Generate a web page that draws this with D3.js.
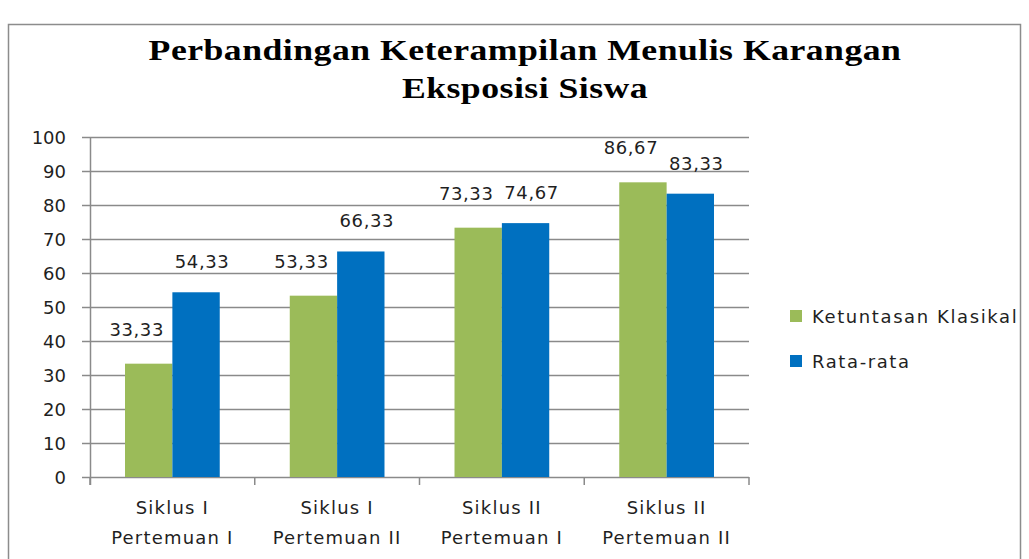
<!DOCTYPE html>
<html>
<head>
<meta charset="utf-8">
<script src="https://cdn.jsdelivr.net/npm/d3@7"></script>
<style>
  body { margin: 0; background: #fff; }
  text { font-family: "DejaVu Sans", Verdana, sans-serif; fill: #1f1f1f; }
</style>
</head>
<body>
<div id="chart"></div>
<script>
var categories = [["Siklus I", "Pertemuan I"], ["Siklus I", "Pertemuan II"], ["Siklus II", "Pertemuan I"], ["Siklus II", "Pertemuan II"]];
var seriesNames = ["Ketuntasan Klasikal", "Rata-rata"];
var ketuntasan = [33.33, 53.33, 73.33, 86.67];
var rataRata = [54.33, 66.33, 74.67, 83.33];
var yTicks = [0, 10, 20, 30, 40, 50, 60, 70, 80, 90, 100];
var titleLines = ["Perbandingan Keterampilan Menulis Karangan", "Eksposisi Siswa"];

function init() {
    var w = 1029;
    var h = 559;
    var colors = ["#9bbb59", "#0070c0"];
    var series = [ketuntasan, rataRata];

    var svg = d3.select("#chart")
        .append("svg")
        .attr("width", w)
        .attr("height", h);

    // outer chart border
    svg.append("rect")
        .attr("x", 8.5).attr("y", 24.5)
        .attr("width", 1012).attr("height", 560)
        .attr("fill", "none")
        .attr("stroke", "#8c8c8c")
        .attr("stroke-width", 1.5);

    // title is drawn a bit stretched, like the original
    var tg = svg.append("g")
        .attr("transform", "translate(525,0) scale(1.19,1)");
    tg.selectAll(".title")
        .data(titleLines)
        .enter()
        .append("text")
        .attr("class", "title")
        .attr("x", 0)
        .attr("y", function(d, i) { return 60 + i * 38; })
        .attr("text-anchor", "middle")
        .style("font-family", "'Liberation Serif', 'Times New Roman', serif")
        .style("font-weight", "bold")
        .style("font-size", "30px")
        .style("letter-spacing", "0.4px")
        .style("fill", "#000")
        .text(function(d) { return d; });

    var left = 90, right = 749, top = 137, bottom = 477;

    var x0 = d3.scaleBand()
        .domain(d3.range(categories.length))
        .range([left, right])
        .paddingInner(0.425)
        .paddingOuter(0.2125);

    var x1 = d3.scaleBand()
        .domain(d3.range(series.length))
        .range([0, x0.bandwidth()]);

    var y = d3.scaleLinear().domain([0, 100]).range([bottom, top]);

    // gridlines
    svg.selectAll(".grid")
        .data(yTicks)
        .enter()
        .append("line")
        .attr("x1", left - 8)
        .attr("x2", right)
        .attr("y1", function(d) { return Math.round(y(d)) + 0.5; })
        .attr("y2", function(d) { return Math.round(y(d)) + 0.5; })
        .attr("stroke", "#8a8a8a")
        .attr("stroke-width", 1.3);

    svg.selectAll(".ylab")
        .data(yTicks)
        .enter()
        .append("text")
        .attr("x", 66)
        .attr("y", function(d) { return y(d) + 7; })
        .attr("text-anchor", "end")
        .style("font-size", "18px")
        .text(function(d) { return d; });

    // bars
    var groups = svg.selectAll(".grp")
        .data(categories)
        .enter()
        .append("g")
        .attr("transform", function(d, i) { return "translate(" + x0(i) + ",0)"; });

    groups.selectAll("rect")
        .data(function(d, i) { return series.map(function(s, k) { return { k: k, v: s[i] }; }); })
        .enter()
        .append("rect")
        .attr("x", function(d) { return x1(d.k); })
        .attr("y", function(d) { return y(d.v); })
        .attr("width", x1.bandwidth())
        .attr("height", function(d) { return bottom - y(d.v); })
        .attr("fill", function(d) { return colors[d.k]; });

    groups.selectAll(".val")
        .data(function(d, i) { return series.map(function(s, k) { return { k: k, v: s[i] }; }); })
        .enter()
        .append("text")
        .attr("x", function(d) { return x1(d.k) + x1.bandwidth() / 2 + (d.k === 0 ? -12 : 6); })
        .attr("y", function(d) { return y(d.v) - (d.k === 0 ? 28 : 24); })
        .attr("text-anchor", "middle")
        .style("font-size", "18px")
        .style("letter-spacing", "0.6px")
        .text(function(d) { return d.v.toFixed(2).replace(".", ","); });

    // axes lines
    svg.append("line")
        .attr("x1", left + 0.5).attr("x2", left + 0.5)
        .attr("y1", top).attr("y2", bottom + 8)
        .attr("stroke", "#8a8a8a").attr("stroke-width", 1.5);

    var tickXs = d3.range(categories.length + 1).map(function(i) {
        return left + i * (right - left) / categories.length;
    });
    svg.selectAll(".xtick")
        .data(tickXs)
        .enter()
        .append("line")
        .attr("x1", function(d) { return d; })
        .attr("x2", function(d) { return d; })
        .attr("y1", bottom)
        .attr("y2", bottom + 8)
        .attr("stroke", "#8a8a8a").attr("stroke-width", 1.5);

    var xl = svg.selectAll(".xlab")
        .data(categories)
        .enter()
        .append("text")
        .attr("text-anchor", "middle")
        .style("font-size", "18px")
        .style("letter-spacing", "1.2px");
    xl.selectAll("tspan")
        .data(function(d, i) { return d.map(function(t) { return { t: t, i: i }; }); })
        .enter()
        .append("tspan")
        .attr("x", function(d) { return x0(d.i) + x0.bandwidth() / 2; })
        .attr("y", function(d, j) { return 514 + j * 30; })
        .text(function(d) { return d.t; });

    // legend
    var leg = svg.selectAll(".leg")
        .data(seriesNames)
        .enter()
        .append("g")
        .attr("transform", function(d, i) { return "translate(790," + (310 + i * 45) + ")"; });
    leg.append("rect")
        .attr("width", 12).attr("height", 12)
        .attr("fill", function(d, i) { return colors[i]; });
    leg.append("text")
        .attr("x", 22).attr("y", 13)
        .style("font-size", "18px")
        .style("letter-spacing", "1.6px")
        .text(function(d) { return d; });
}

window.onload = init;
</script>
</body>
</html>
